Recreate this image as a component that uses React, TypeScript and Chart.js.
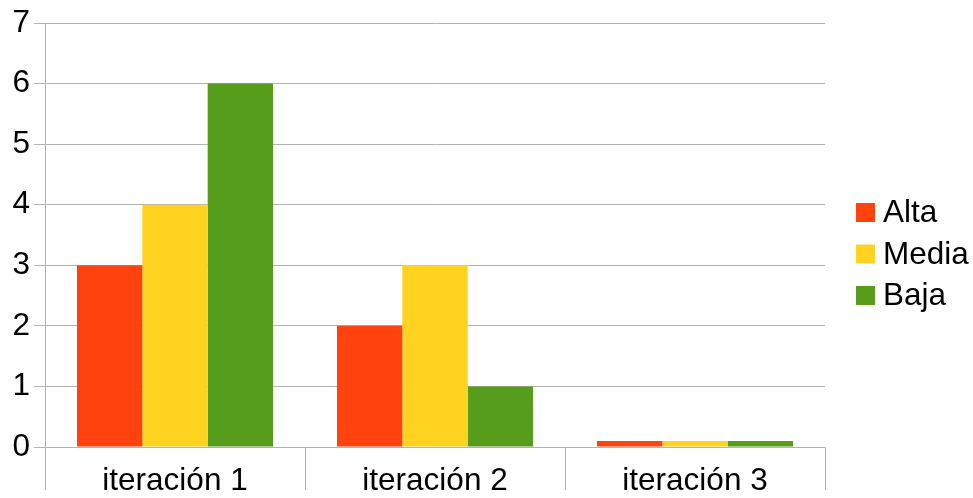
import React, { useEffect, useRef } from "react";
import { Chart, registerables } from "chart.js";

Chart.register(...registerables);

const categories = ["iteración 1", "iteración 2", "iteración 3"];
const seriesNames = ["Alta", "Media", "Baja"];
const alta = [3, 2, 0.1];
const media = [4, 3, 0.1];
const baja = [6, 1, 0.1];
const seriesColors = ["#ff420e", "#ffd320", "#579d1c"];
const yMin = 0;
const yMax = 7;

const FONT = "'Liberation Sans', Arial, sans-serif";
const FS = 31.5;
const GRID = "#b3b3b3";

const legendPlugin = {
  id: "customLegend",
  afterDraw(chart: any) {
    const ctx = chart.ctx;
    const ds = chart.data.datasets;
    const x0 = 856;
    const yc = 212.5;
    const gap = 41.5;
    ctx.save();
    ctx.font = `${FS}px ${FONT}`;
    ctx.textBaseline = "middle";
    ctx.textAlign = "left";
    ds.forEach((d: any, i: number) => {
      const cy = yc + i * gap;
      ctx.fillStyle = d.backgroundColor;
      ctx.fillRect(x0, cy - 9.5, 19, 19);
      ctx.fillStyle = "#000";
      ctx.fillText(d.label, 883, cy + 1);
    });
    ctx.restore();
  },
};

export default function App() {
  const ref = useRef<HTMLCanvasElement>(null);
  useEffect(() => {
    if (!ref.current) return;
    const values = [alta, media, baja];
    const chart = new Chart(ref.current, {
      type: "bar",
      data: {
        labels: categories,
        datasets: seriesNames.map((n, i) => ({
          label: n,
          data: values[i],
          backgroundColor: seriesColors[i],
          borderWidth: 0,
          categoryPercentage: 0.754,
          barPercentage: 1,
        })),
      },
      options: {
        animation: false,
        responsive: false,
        maintainAspectRatio: false,
        layout: { padding: { top: 23, right: 148, left: 0, bottom: 0 } },
        plugins: { legend: { display: false }, tooltip: { enabled: false } },
        scales: {
          x: {
            offset: true,
            afterFit(scale: any) {
              scale.height = 51;
            },
            grid: {
              offset: true,
              drawOnChartArea: true,
              color: (c: any) =>
                c.index === 0 || c.index === categories.length ? GRID : "transparent",
              tickColor: GRID,
              tickLength: 43,
              lineWidth: 1,
            },
            border: { color: GRID },
            ticks: {
              color: "#000",
              font: { family: FONT, size: FS },
              padding: -28,
              maxRotation: 0,
            },
          },
          y: {
            min: yMin,
            max: yMax,
            afterFit(scale: any) {
              scale.width = 45;
            },
            grid: { color: GRID, tickColor: GRID, tickLength: 11 },
            border: { color: GRID },
            ticks: {
              stepSize: 1,
              color: "#000",
              font: { family: FONT, size: FS },
              padding: 4,
            },
          },
        },
      },
      plugins: [legendPlugin],
    });
    return () => chart.destroy();
  }, []);
  return (
    <div style={{ position: "fixed", left: 0, top: 0, width: 973, height: 498, background: "#fff" }}>
      <canvas ref={ref} width={973} height={498} style={{ width: 973, height: 498 }} />
    </div>
  );
}
